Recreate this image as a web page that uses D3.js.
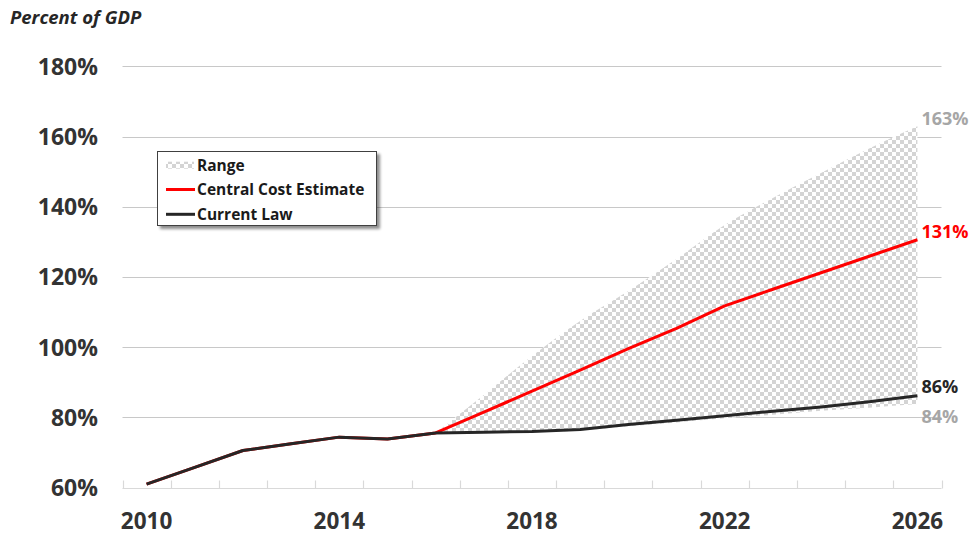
<!DOCTYPE html>
<html>
<head>
<meta charset="utf-8">
<script src="https://cdn.jsdelivr.net/npm/d3@7"></script>
<style>
  html, body { margin: 0; padding: 0; background: #fff; }
  svg { display: block; font-family: "Open Sans", "DejaVu Sans", sans-serif; }
</style>
</head>
<body>
<svg id="chart" width="972" height="535"></svg>
<script>
// ---- data ----
const years = [2010, 2011, 2012, 2013, 2014, 2015, 2016, 2017, 2018, 2019, 2020, 2021, 2022, 2023, 2024, 2025, 2026];
const currentLaw = [61.0, 65.8, 70.6, 72.5, 74.4, 73.9, 75.6, 75.8, 76.0, 76.6, 78.0, 79.2, 80.5, 81.8, 83.0, 84.5, 86.2];
const centralEstimate = [61.0, 65.8, 70.6, 72.5, 74.4, 73.9, 75.6, 81.5, 87.5, 93.5, 99.6, 105.4, 111.8, 116.5, 121.2, 125.9, 130.6];
const rangeYears = [2016, 2017, 2018, 2019, 2020, 2021, 2022, 2023, 2024, 2025, 2026];
const rangeUpper = [75.6, 86.4, 97.5, 107.5, 116.0, 125.1, 134.8, 142.5, 149.6, 156.6, 162.9];
const rangeLower = [75.6, 75.6, 75.8, 76.3, 77.5, 78.6, 79.8, 80.8, 81.9, 82.8, 83.8];
const yTicks = [60, 80, 100, 120, 140, 160, 180];
const xLabelYears = [2010, 2014, 2018, 2022, 2026];
const endLabels = [
  { text: "163%", value: 162.9, color: "#a6a6a6", dy: -8 },
  { text: "131%", value: 130.6, color: "#ff0000", dy: -8 },
  { text: "86%", value: 86.2, color: "#262626", dy: -9 },
  { text: "84%", value: 83.8, color: "#a6a6a6", dy: 12 }
];
const legendItems = [
  { label: "Range", type: "range" },
  { label: "Central Cost Estimate", type: "line", color: "#ff0000" },
  { label: "Current Law", type: "line", color: "#262626" }
];

// ---- setup ----
const svg = d3.select("#chart");
const x = d3.scaleBand().domain(years).range([122.5, 941.5]).padding(0);
const y = d3.scaleLinear().domain([60, 180]).range([487.7, 66.3]);
const bw = x.bandwidth();
const cx = d => x(d) + bw / 2;

const defs = svg.append("defs");
const pat = defs.append("pattern").attr("id", "checker").attr("patternUnits", "userSpaceOnUse")
  .attr("width", 8).attr("height", 8);
pat.append("rect").attr("width", 8).attr("height", 8).attr("fill", "#ffffff");
pat.append("rect").attr("x", 0).attr("y", 0).attr("width", 4).attr("height", 4).attr("fill", "#d4d4d4");
pat.append("rect").attr("x", 4).attr("y", 4).attr("width", 4).attr("height", 4).attr("fill", "#d4d4d4");

const shadow = defs.append("filter").attr("id", "shadow").attr("x", "-10%").attr("y", "-10%").attr("width", "130%").attr("height", "140%");
shadow.append("feGaussianBlur").attr("in", "SourceAlpha").attr("stdDeviation", 1.5);
shadow.append("feOffset").attr("dx", 3).attr("dy", 3).attr("result", "ob");
shadow.append("feComponentTransfer").append("feFuncA").attr("type", "linear").attr("slope", 0.45);
const merge = shadow.append("feMerge");
merge.append("feMergeNode");
merge.append("feMergeNode").attr("in", "SourceGraphic");

// title
svg.append("text").attr("x", 10).attr("y", 24)
  .attr("font-size", 18.5).attr("font-weight", "bold").attr("font-style", "italic")
  .attr("fill", "#262626").text("Percent of GDP");

// gridlines
const [xr0, xr1] = x.range();
svg.append("g").selectAll("line").data(yTicks.filter(t => t > 60)).join("line")
  .attr("x1", xr0).attr("x2", xr1)
  .attr("y1", d => Math.round(y(d)) + 0.5).attr("y2", d => Math.round(y(d)) + 0.5)
  .attr("stroke", "#c8c8c8").attr("stroke-width", 1);

// y labels
svg.append("g").selectAll("text").data(yTicks).join("text")
  .attr("x", 98).attr("y", d => y(d)).attr("dy", "0.36em")
  .attr("text-anchor", "end").attr("font-size", 23).attr("font-weight", "bold")
  .attr("fill", "#333333").text(d => d + "%");

// x axis
const axisY = Math.round(y(60)) + 0.5;
svg.append("line").attr("x1", xr0).attr("x2", xr1).attr("y1", axisY).attr("y2", axisY)
  .attr("stroke", "#d9d9d9").attr("stroke-width", 1.2);
const tickPos = years.map(d => x(d)).concat([x(years[years.length - 1]) + bw]);
svg.append("g").selectAll("line").data(tickPos).join("line")
  .attr("x1", d => Math.round(d) + 0.5).attr("x2", d => Math.round(d) + 0.5)
  .attr("y1", axisY - 8).attr("y2", axisY)
  .attr("stroke", "#d9d9d9").attr("stroke-width", 1.2);
svg.append("g").selectAll("text").data(xLabelYears).join("text")
  .attr("x", d => cx(d)).attr("y", 528.5)
  .attr("text-anchor", "middle").attr("font-size", 22.5).attr("font-weight", "bold")
  .attr("fill", "#333333").text(d => d);

// range area
const rangeData = rangeYears.map((yr, i) => ({ yr, lo: rangeLower[i], hi: rangeUpper[i] }));
svg.append("path").datum(rangeData)
  .attr("d", d3.area().x(d => cx(d.yr)).y0(d => y(d.lo)).y1(d => y(d.hi)).curve(d3.curveMonotoneX))
  .attr("fill", "url(#checker)");

// lines
const lineGen = vals => d3.line().x((d, i) => cx(years[i])).y(d => y(d)).curve(d3.curveLinear)(vals);
svg.append("path").attr("d", lineGen(centralEstimate)).attr("fill", "none")
  .attr("stroke", "#ff0000").attr("stroke-width", 3).attr("stroke-linejoin", "round");
svg.append("path").attr("d", lineGen(currentLaw)).attr("fill", "none")
  .attr("stroke", "#262626").attr("stroke-width", 3).attr("stroke-linejoin", "round");

// end labels
const lastX = cx(years[years.length - 1]) + 4;
svg.append("g").selectAll("text").data(endLabels).join("text")
  .attr("x", lastX).attr("y", d => y(d.value) + d.dy).attr("dy", "0.36em")
  .attr("font-size", 18).attr("font-weight", "bold").attr("fill", d => d.color)
  .text(d => d.text);

// legend
const lg = svg.append("g");
lg.append("rect").attr("x", 157.5).attr("y", 151.5).attr("width", 219).attr("height", 74)
  .attr("fill", "#fff").attr("stroke", "#404040").attr("stroke-width", 1).attr("filter", "url(#shadow)");
const rowY = [165.7, 189.5, 214.3];
legendItems.forEach((it, i) => {
  const ry = rowY[i];
  if (it.type === "range") {
    lg.append("rect").attr("x", 166).attr("y", ry - 4).attr("width", 28).attr("height", 7)
      .attr("fill", "url(#checker)");
  } else {
    lg.append("line").attr("x1", 166).attr("x2", 195).attr("y1", ry).attr("y2", ry)
      .attr("stroke", it.color).attr("stroke-width", 3);
  }
  lg.append("text").attr("x", 197).attr("y", ry).attr("dy", "0.36em")
    .attr("font-size", 15.5).attr("font-weight", "bold").attr("fill", "#1a1a1a").text(it.label);
});
</script>
</body>
</html>
